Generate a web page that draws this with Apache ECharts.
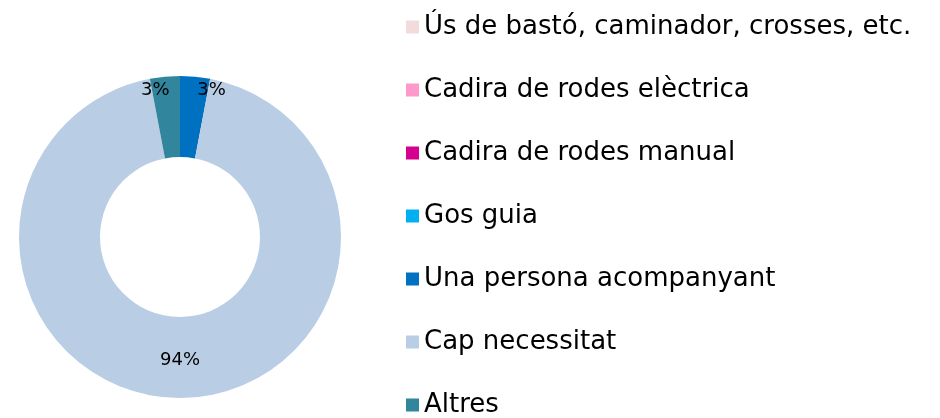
<!DOCTYPE html>
<html lang="ca">
<head>
    <meta charset="UTF-8">
    <title>Necessitats</title>
    <script src="https://cdn.jsdelivr.net/npm/echarts@6/dist/echarts.min.js"></script>
    <style>
        html,body{margin:0;padding:0;background:#fff;}
        #chart{width:940px;height:418px;}
    </style>
</head>
<body>
<div id="chart"></div>
<script>
    // categories and values (percent)
    var categories=['Ús de bastó, caminador, crosses, etc.','Cadira de rodes elèctrica','Cadira de rodes manual','Gos guia','Una persona acompanyant','Cap necessitat','Altres'];
    var values=[0,0,0,0,3,94,3];
    var colors=['#F2DCDB','#FF99CC','#D6008F','#00B0F0','#0070C0','#B9CDE5','#31859C'];

    var data=[];
    for(var i=0;i<categories.length;i++){
        data.push({name:categories[i],value:values[i],itemStyle:{color:colors[i]}});
    }

    // nudge the small-slice labels out towards the rim, like the original
    var labelShift={4:{dx:20,dy:-24},6:{dx:-13,dy:-24}};

    var option={
        animation:false,
        legend:{
            orient:'vertical',
            left:401,
            top:9,
            height:410,
            itemWidth:13,
            itemHeight:13,
            itemGap:37,
            icon:'rect',
            data:categories,
            textStyle:{
                fontFamily:'DejaVu Sans, sans-serif',
                fontSize:26,
                lineHeight:26,
                color:'#000'
            }
        },
        series:[
            {
                type:'pie',
                center:[180,237],
                radius:[80,161],
                startAngle:90,
                clockwise:true,
                avoidLabelOverlap:false,
                silent:true,
                label:{
                    show:true,
                    position:'inside',
                    fontFamily:'DejaVu Sans, sans-serif',
                    fontSize:18,
                    color:'#000',
                    formatter:function(p){
                        return p.value>0 ? p.value+'%' : '';
                    }
                },
                labelLine:{show:false},
                labelLayout:function(p){
                    return labelShift[p.dataIndex]||{};
                },
                data:data
            }
        ]
    };
    var pie=echarts.init(document.getElementById('chart'));
    pie.setOption(option);
</script>
</body>
</html>
